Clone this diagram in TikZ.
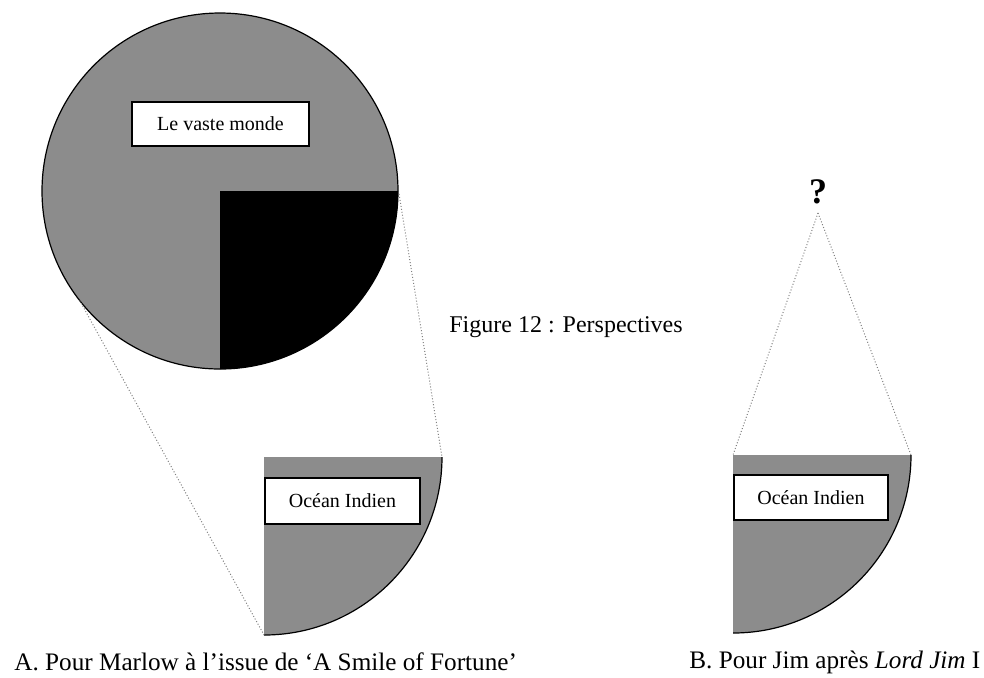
\documentclass[tikz,border=0pt]{standalone}
\usepackage{fontspec}
\setmainfont{Liberation Serif}
\usetikzlibrary{positioning,calc}
\definecolor{discgray}{RGB}{140,140,140}

\begin{document}
\begin{tikzpicture}[
  x=0.5pt, y=0.5pt,
  label/.style={rectangle, draw, line width=0.9pt, fill=white, align=center, font=\fontsize{10}{11}\selectfont, inner sep=0pt},
  caption/.style={font=\fontsize{12}{14}\selectfont, inner sep=0pt},
  legend/.style={font=\fontsize{12.6}{14}\selectfont, inner sep=0pt, anchor=west},
  sight/.style={draw=gray, densely dotted, line width=0.5pt},
  rim/.style={draw, line width=0.6pt}
]
\useasboundingbox (0,0) rectangle (984,-677);

% A: le vaste monde
\fill[discgray] (220,-191) circle (178);
\fill[black] (220,-191) -- (398,-191) arc (0:-90:178) -- cycle;
\path[rim] (220,-191) circle (178);
\coordinate (bigleft) at ($(220,-191)+(218:178)$);
\coordinate (bigright) at (399,-194);

% A: ocean indien
\fill[discgray] (264,-457) -- (442,-457) arc (0:-90:178) -- cycle;
\path[rim] (442,-457) arc (0:-90:178);
\coordinate (qAright) at (442,-457);
\coordinate (qAbottom) at (264,-635);

\node[label, minimum width=88.5pt, minimum height=22pt] (monde) at (220.5,-124) {Le vaste monde};
\node[label, minimum width=77.5pt, minimum height=23pt, anchor=west] (oceanA) at (264,-501) {Océan Indien};

\path[sight] (bigleft) -- (qAbottom);
\path[sight] (bigright) -- (qAright);

% B: ocean indien
\fill[discgray] (733,-455) -- (911,-455) arc (0:-90:178) -- cycle;
\path[rim] (911,-455) arc (0:-90:178);
\coordinate (qBleft) at (733,-455);
\coordinate (qBright) at (911,-455);
\node[label, minimum width=77pt, minimum height=22.5pt, anchor=west] (oceanB) at (733,-497.5) {Océan Indien};

\node[font=\fontsize{18}{19}\bfseries\selectfont, inner sep=0pt] (quest) at (818,-192) {?};
\coordinate (apex) at (818,-213);
\path[sight] (apex) -- (qBleft);
\path[sight] (apex) -- (qBright);

% captions
\node[caption] (titre) at (566,-327) {Figure 12 : Perspectives};
\node[legend] (capA) at (14,-662) {A. Pour Marlow à l'issue de `A Smile of Fortune'};
\node[legend] (capB) at (689,-662) {B. Pour Jim après \textit{Lord Jim} I};

\end{tikzpicture}
\end{document}
